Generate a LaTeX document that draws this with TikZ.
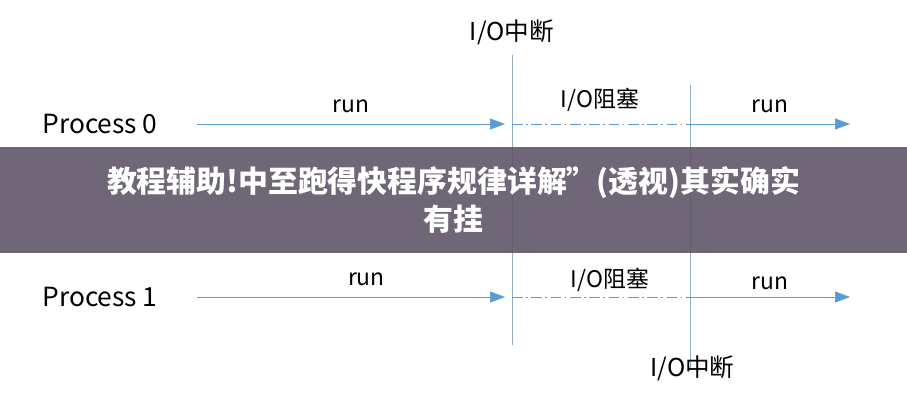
\documentclass[tikz,border=0pt]{standalone}
\usepackage{fontspec}
\setmainfont{Noto Sans CJK SC}
\usetikzlibrary{arrows.meta, positioning}
\definecolor{lineblue}{RGB}{91,155,213}
\definecolor{divgray}{RGB}{150,170,190}
\tikzset{
	flow/.style={draw=lineblue, thin, -{Triangle[length=3mm, width=2.2mm]}},
	block/.style={draw=lineblue, thin, dash pattern=on 6pt off 2pt on 1pt off 2pt},
	cut/.style={draw=divgray, thin},
	lbl/.style={font=\fontsize{13}{15}\selectfont, inner sep=1pt},
	proc/.style={font=\fontsize{15}{17}\selectfont, inner sep=1pt}
}
\begin{document}
\begin{tikzpicture}
    \useasboundingbox (0,0) rectangle (18.14,8.02);
    % Processes
    \node[proc] (p0) at (2.0,5.54) {Process 0};
    \node[proc] (p1) at (2.0,2.08) {Process 1};
    % Points on timelines
    \coordinate (a0) at (3.94,5.54);  \coordinate (b0) at (10.1,5.54);
    \coordinate (c0) at (10.24,5.54); \coordinate (d0) at (13.8,5.54);
    \coordinate (e0) at (17.0,5.54);
    \coordinate (a1) at (3.94,2.08);  \coordinate (b1) at (10.1,2.08);
    \coordinate (c1) at (10.24,2.08); \coordinate (d1) at (13.8,2.08);
    \coordinate (e1) at (17.0,2.08);
    % Interrupt lines
    \coordinate (t0) at (10.24,6.92); \coordinate (t1) at (10.24,1.12);
    \coordinate (u0) at (13.8,6.32);  \coordinate (u1) at (13.8,0.62);
    \draw[cut] (t0) -- (t1);
    \draw[cut] (u0) -- (u1);
    \node[lbl, font=\fontsize{14}{16}\selectfont] (int0) at (10.24,7.38) {I/O中断};
    \node[lbl, font=\fontsize{14}{16}\selectfont] (int1) at (13.85,0.66) {I/O中断};
    % Timelines
    \draw[flow] (a0) -- (b0) node[lbl, pos=0.5, above=5pt] (r00) {run};
    \draw[block] (c0) -- (d0);
    \draw[flow] (d0) -- (e0) node[lbl, pos=0.5, above=5pt] (r01) {run};
    \node[lbl] (blk0) at (12.0,6.02) {I/O阻塞};
    \draw[flow] (a1) -- (b1) node[lbl, pos=0.55, above=5pt] (r10) {run};
    \draw[block] (c1) -- (d1);
    \draw[flow] (d1) -- (e1) node[lbl, pos=0.5, above=3pt] (r11) {run};
    \node[lbl] (blk1) at (12.2,2.42) {I/O阻塞};
    % Banner
    \fill[fill={rgb,255:red,95;green,85;blue,105}, fill opacity=0.9] (0,2.96) rectangle (18.14,5.08);
    \node[text=white, font=\bfseries\fontsize{17}{22}\selectfont, align=center] (ban) at (9.07,4.02)
      {教程辅助!中至跑得快程序规律详解”(透视)其实确实\\有挂};
\end{tikzpicture}
\end{document}
